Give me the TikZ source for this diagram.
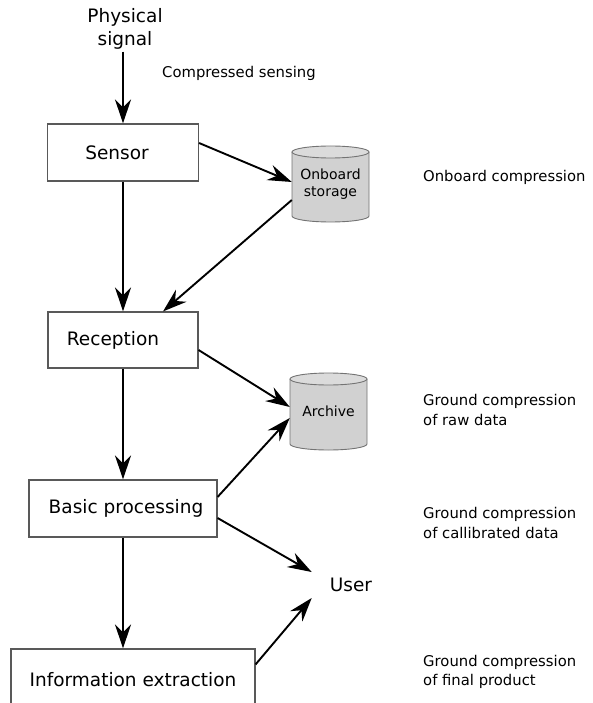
\documentclass[tikz,border=0pt]{standalone}
\usepackage{fontspec}
\setmainfont{DejaVu Sans}
\usetikzlibrary{arrows.meta,calc}
\colorlet{cyltopcol}{black!14}
\newcommand\mycyl[4]{% L R T B (pixel coords)
  \fill[cylfill] (#1,-#3-6) -- (#1,-#4+6) arc[start angle=180,end angle=360,x radius={(#2-#1)/2*1pt},y radius=6pt] -- (#2,-#3-6) -- cycle;
  \draw[cylline] (#1,-#3-6) -- (#1,-#4+6) arc[start angle=180,end angle=360,x radius={(#2-#1)/2*1pt},y radius=6pt] -- (#2,-#3-6);
  \filldraw[cylline,fill=cyltopcol] ({(#1+#2)/2},-#3-6) ellipse[x radius={(#2-#1)/2*1pt},y radius=6pt];
}
\begin{document}
\begin{tikzpicture}[x=1pt,y=1pt,
  box/.style={draw=black!65,line width=1.1pt,fill=white,inner sep=0pt,
    font=\fontsize{18.5}{22}\selectfont},
  side/.style={anchor=west,align=left,inner sep=0pt,font=\fontsize{14.8}{19.5}\selectfont},
  cyltext/.style={align=center,inner sep=0pt,font=\fontsize{14}{16.5}\selectfont},
  cylfill/.style={fill=black!18},
  cylline/.style={draw=black!55,line width=0.9pt},
  arr/.style={draw=black,line width=1.9pt,-{Stealth[length=24pt,width=16pt,inset=8pt]}}]
\useasboundingbox (0,0) rectangle (592,-703);

% cylinders
\mycyl{292}{369}{146}{222}
\mycyl{290}{367}{373}{450}

% nodes
\node[align=center,inner sep=2pt,font=\fontsize{18.5}{23}\selectfont] (phys) at (125,-29) {Physical\\signal};
\node[side] (cs) at (162,-73) {Compressed sensing};
\node[box,minimum width=151pt,minimum height=57pt] (sen) at (123,-152.5) {\kern-12pt Sensor};
\node[box,minimum width=150pt,minimum height=56pt] (rec) at (123,-340) {\kern-20pt Reception};
\node[box,minimum width=188pt,minimum height=57pt] (bas) at (123,-508.5) {\kern6pt Basic processing};
\node[box,minimum width=244pt,minimum height=62pt] (inf) at (133,-680) {Information extraction};
\node[cyltext,minimum width=77pt,minimum height=76pt] (ob) at (330.5,-184) {Onboard\\storage};
\node[cyltext,minimum width=77pt,minimum height=77pt] (ar) at (328.5,-411.5) {Archive};
\node[inner sep=0pt,font=\fontsize{18.5}{22}\selectfont] (usr) at (351,-585) {User};

\node[side] (l1) at (423,-177) {Onboard compression};
\node[side] (l2) at (423,-410) {Ground compression\\of raw data};
\node[side] (l3) at (423,-523) {Ground compression\\of callibrated data};
\node[side] (l4) at (423,-672) {Ground compression\\of final product};

% connectors
\draw[arr] ($(phys.south)+(-2,0)$) -- (sen.north);
\draw[arr] (sen.south) -- (rec.north);
\draw[arr] (rec.south) -- (bas.north);
\draw[arr] (bas.south) -- (bas.south |- inf.north);
\draw[arr] ($(sen.east)+(0,9.5)$) -- ($(ob.west)+(0,2)$);
\draw[arr] ($(ob.west)+(0,-16)$) -- ($(rec.north)+(40,0)$);
\draw[arr] ($(rec.east)+(0,-10)$) -- ($(ar.west)+(0,4.5)$);
\draw[arr] ($(bas.east)+(0,11.5)$) -- ($(ar.west)+(0,-6.5)$);
\draw[arr] ($(bas.east)+(0,-9.5)$) -- ($(usr.west)+(-18,13)$);
\draw[arr] ($(inf.north east)+(0,-16)$) -- ($(usr.west)+(-18,-13)$);
\end{tikzpicture}
\end{document}
